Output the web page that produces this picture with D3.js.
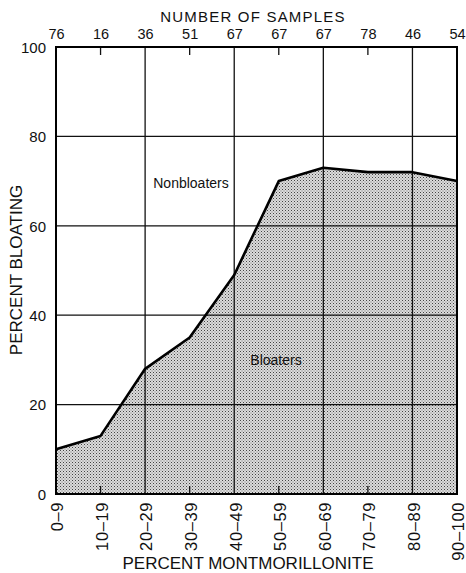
<!DOCTYPE html>
<html>
<head>
<meta charset="utf-8">
<script src="https://cdn.jsdelivr.net/npm/d3@7"></script>
<style>
  html, body { margin: 0; padding: 0; background: #fff; }
  svg { display: block; }
  text { font-family: "Liberation Sans", Arial, sans-serif; fill: #111; }
</style>
</head>
<body>
<svg id="chart" width="466" height="573"></svg>
<script>
// Montmorillonite content classes (x axis)
const categories = ["0–9", "10–19", "20–29", "30–39", "40–49", "50–59", "60–69", "70–79", "80–89", "90–100"];
// Percent of samples that bloated in each class
const bloating = [10, 13, 28, 35, 49, 70, 73, 72, 72, 70];
// Number of samples in each class (top axis)
const sampleCounts = ["76", "16", "36", "51", "67", "67", "67", "78", "46", "54"];
// Percent bloating axis ticks
const yTicks = [0, 20, 40, 60, 80, 100];

const svg = d3.select("#chart");
const plotL = 56, plotR = 457, plotT = 47, plotB = 494;

const x = d3.scalePoint().domain(categories).range([plotL, plotR]).padding(0);
const y = d3.scaleLinear().domain([0, 100]).range([plotB, plotT]);

// Stipple pattern for the bloaters area
const defs = svg.append("defs");
const pat = defs.append("pattern")
  .attr("id", "stipple").attr("patternUnits", "userSpaceOnUse")
  .attr("width", 3).attr("height", 3);
pat.append("rect").attr("width", 3).attr("height", 3).attr("fill", "#dcdcdc");
pat.append("rect").attr("x", 0).attr("y", 0).attr("width", 1).attr("height", 1).attr("fill", "#444");
pat.append("rect").attr("x", 1.5).attr("y", 1.5).attr("width", 1).attr("height", 1).attr("fill", "#777");

const data = categories.map((c, i) => ({ c, v: bloating[i] }));

// Shaded area beneath the curve
svg.append("path")
  .datum(data)
  .attr("fill", "url(#stipple)")
  .attr("d", d3.area().x(d => x(d.c)).y0(y(0)).y1(d => y(d.v)));

// Horizontal gridlines
svg.append("g").selectAll("line")
  .data(yTicks.filter(t => t > 0 && t < 100))
  .join("line")
  .attr("x1", plotL).attr("x2", plotR)
  .attr("y1", d => y(d)).attr("y2", d => y(d))
  .attr("stroke", "#111").attr("stroke-width", 1.3);

// Vertical gridlines at every other class, short ticks elsewhere
const gridCats = categories.filter((c, i) => i % 2 === 0 && i > 0);
const tickCats = categories.filter((c, i) => i % 2 === 1 && i < categories.length - 1);
svg.append("g").selectAll("line")
  .data(gridCats)
  .join("line")
  .attr("x1", d => x(d)).attr("x2", d => x(d))
  .attr("y1", plotT).attr("y2", plotB)
  .attr("stroke", "#111").attr("stroke-width", 1.3);

const shortTicks = svg.append("g");
tickCats.forEach(c => {
  shortTicks.append("line").attr("x1", x(c)).attr("x2", x(c))
    .attr("y1", plotT).attr("y2", plotT + 8).attr("stroke", "#111").attr("stroke-width", 1.3);
  shortTicks.append("line").attr("x1", x(c)).attr("x2", x(c))
    .attr("y1", plotB).attr("y2", plotB - 8).attr("stroke", "#111").attr("stroke-width", 1.3);
});

// Bloating curve
svg.append("path")
  .datum(data)
  .attr("fill", "none").attr("stroke", "#000").attr("stroke-width", 2.6)
  .attr("stroke-linejoin", "round")
  .attr("d", d3.line().x(d => x(d.c)).y(d => y(d.v)));

// Frame
svg.append("rect")
  .attr("x", plotL).attr("y", plotT).attr("width", plotR - plotL).attr("height", plotB - plotT)
  .attr("fill", "none").attr("stroke", "#000").attr("stroke-width", 2);

// Left axis labels
const yAxis = svg.append("g").attr("transform", `translate(${plotL},0)`)
  .call(d3.axisLeft(y).tickValues(yTicks).tickSize(0).tickPadding(10).tickFormat(d3.format("d")));
yAxis.select(".domain").remove();
yAxis.selectAll("text").style("font-size", "15px").attr("dy", "0.35em");

// Top axis: sample counts
const countScale = d3.scalePoint().domain(d3.range(categories.length)).range([plotL, plotR]).padding(0);
const topAxis = svg.append("g").attr("transform", `translate(0,${plotT})`)
  .call(d3.axisTop(countScale).tickSize(0).tickPadding(8).tickFormat(i => sampleCounts[i]));
topAxis.select(".domain").remove();
topAxis.selectAll("text").style("font-size", "14.5px");

// Bottom axis: rotated class labels
const bottomAxis = svg.append("g").attr("transform", `translate(0,${plotB})`)
  .call(d3.axisBottom(x).tickSize(0).tickPadding(0));
bottomAxis.select(".domain").remove();
bottomAxis.selectAll("text")
  .style("font-size", "16.5px")
  .style("letter-spacing", "0.6px")
  .attr("text-anchor", "end")
  .attr("transform", "rotate(-90)")
  .attr("x", -8).attr("y", 1).attr("dy", "0.35em");

// Titles
svg.append("text").attr("x", 253).attr("y", 22).attr("text-anchor", "middle")
  .style("font-size", "15px").style("letter-spacing", "1.2px").text("NUMBER OF SAMPLES");
svg.append("text").attr("x", 248).attr("y", 569).attr("text-anchor", "middle")
  .style("font-size", "17px").text("PERCENT MONTMORILLONITE");
svg.append("text").attr("transform", "translate(22,270) rotate(-90)")
  .attr("text-anchor", "middle").style("font-size", "17px").text("PERCENT BLOATING");

// Region labels
svg.append("text").attr("x", 191).attr("y", 188).attr("text-anchor", "middle")
  .style("font-size", "14px").text("Nonbloaters");
svg.append("text").attr("x", 276).attr("y", 365).attr("text-anchor", "middle")
  .style("font-size", "14px").text("Bloaters");
</script>
</body>
</html>
